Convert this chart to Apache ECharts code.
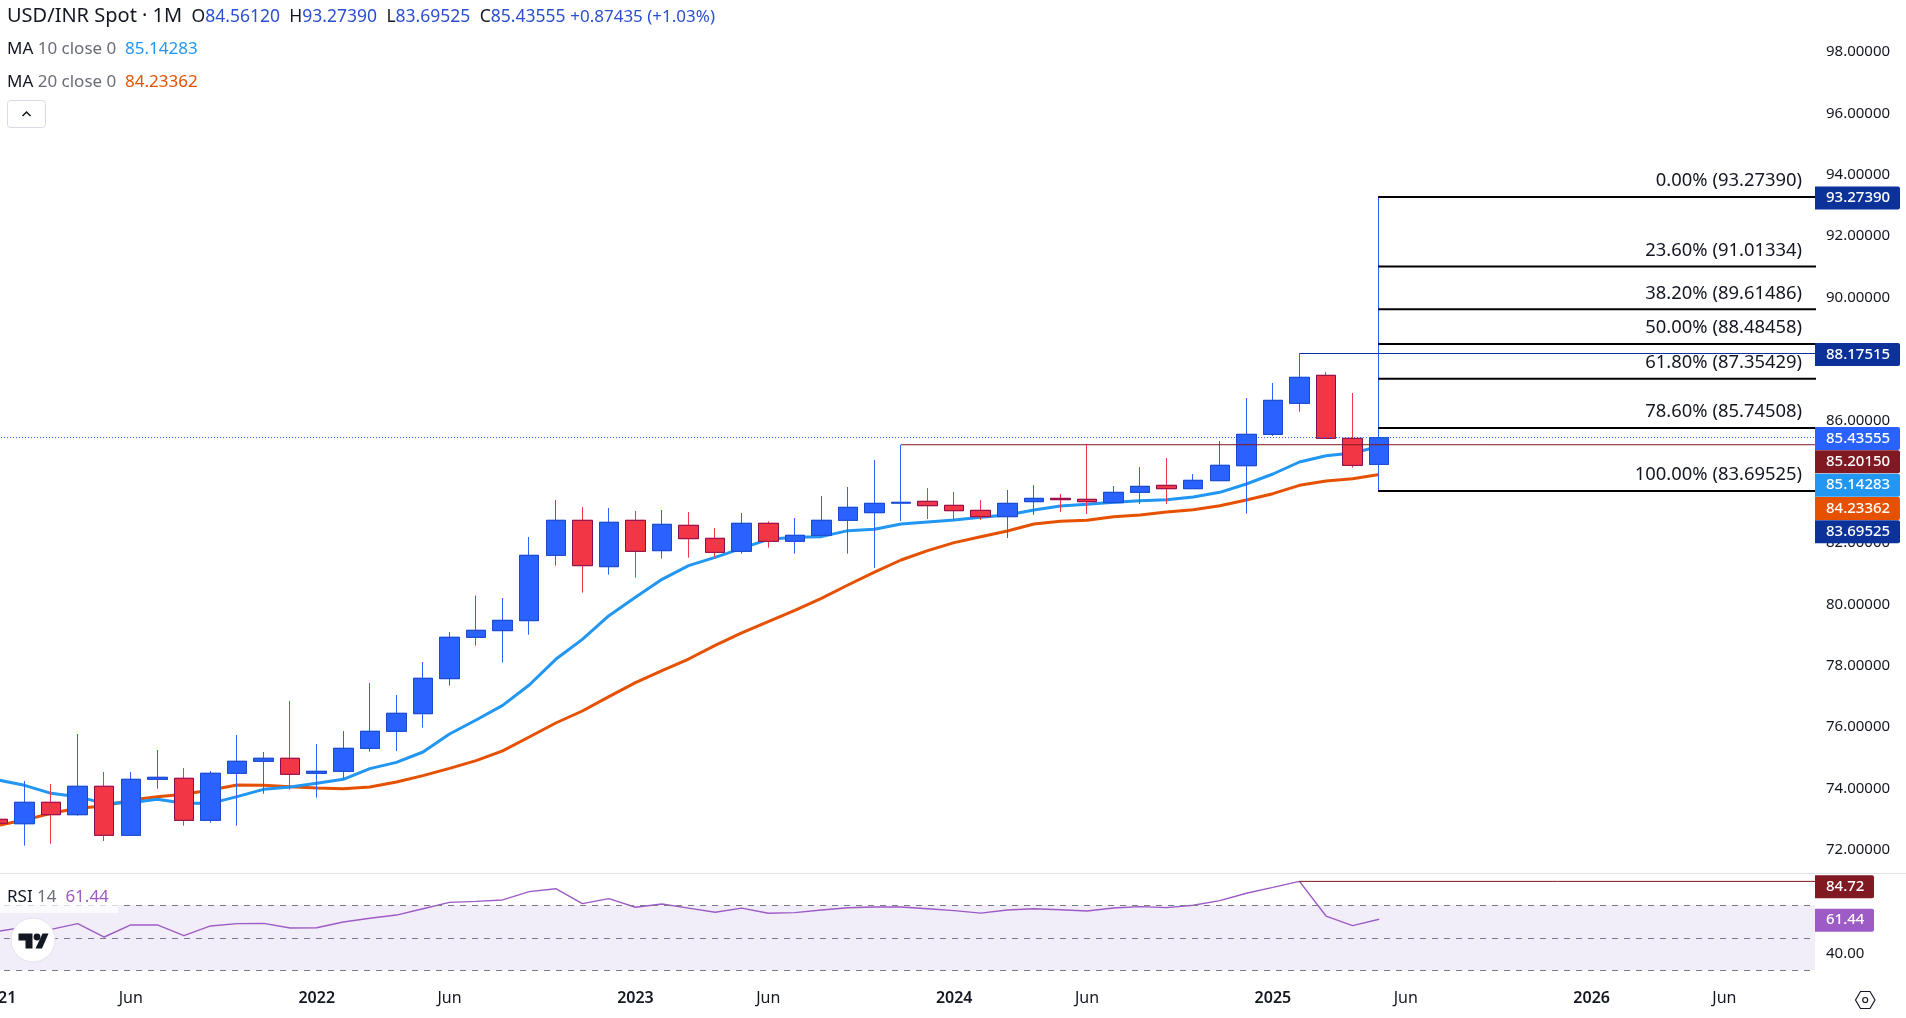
<!DOCTYPE html>
<html><head><meta charset="utf-8">
<style>html,body{margin:0;padding:0;background:#fff}#c{width:1906px;height:1018px}</style>
<script src="https://cdn.jsdelivr.net/npm/echarts@6/dist/echarts.min.js"></script>
</head><body><div id="c"></div>
<script>
const opens=[72.997,72.853,73.551,73.147,74.072,72.476,74.30,74.333,72.964,74.496,
74.887,74.985,74.496,74.561,75.31,75.864,76.439,77.58,78.927,79.144,
79.47,81.598,82.739,81.229,82.739,81.75,82.576,82.152,81.729,82.641,
82.055,82.25,82.739,82.988,83.30,83.358,83.227,83.064,82.858,83.347,
83.455,83.423,83.314,83.651,83.879,83.77,84.031,84.519,85.54,86.551,
87.463,85.41,84.5612];
const closes=[72.867,73.551,73.147,74.072,72.476,74.30,74.365,72.964,74.496,74.887,
74.985,74.463,74.561,75.31,75.864,76.451,77.591,78.927,79.155,79.48,
81.598,82.739,81.262,82.674,81.729,82.608,82.141,81.696,82.641,82.055,
82.25,82.739,83.162,83.292,83.325,83.216,83.053,82.858,83.292,83.455,
83.412,83.347,83.651,83.846,83.77,84.042,84.531,85.54,86.648,87.398,
85.41,84.53,85.43555];
const lows=[72.867,72.137,72.202,73.114,72.29,72.476,73.994,72.788,72.886,72.788,
73.831,73.962,73.701,74.31,75.20,75.222,75.983,77.352,78.655,78.101,
79.013,81.262,80.382,80.968,80.871,81.49,81.522,81.533,81.653,81.848,
81.653,82.207,81.653,81.185,82.717,82.782,82.749,82.749,82.163,82.912,
83.01,82.945,83.314,83.271,83.271,83.77,84.031,82.955,85.486,86.279,
85.41,84.454,83.69525];
const highs=[72.997,74.245,74.147,75.776,74.538,74.538,75.255,74.668,74.571,75.744,
75.19,76.852,75.45,75.874,77.438,77.047,78.123,79.1,80.286,80.208,
82.196,83.401,83.173,83.141,83.043,83.075,83.01,82.489,82.978,82.706,
82.815,83.532,83.825,84.704,85.2015,83.792,83.662,83.401,83.727,83.89,
83.596,85.2015,83.857,84.476,84.769,84.248,85.323,86.724,87.213,88.17515,
87.571,86.887,93.2739];
const ma10=[74.278,74.104,73.843,73.735,73.517,73.539,73.648,73.517,73.517,73.735,
73.973,74.049,74.169,74.299,74.647,74.853,75.19,75.777,76.233,76.711,
77.373,78.21,78.861,79.632,80.23,80.816,81.262,81.533,81.826,82.12,
82.185,82.207,82.402,82.446,82.619,82.684,82.749,82.836,82.912,83.075,
83.205,83.26,83.325,83.379,83.412,83.499,83.651,83.922,84.248,84.639,
84.845,84.932,85.14283];
const ma20=[72.80,72.974,73.191,73.354,73.43,73.626,73.735,73.811,73.952,74.115,
74.104,74.06,74.017,73.995,74.049,74.212,74.419,74.658,74.908,75.228,
75.679,76.135,76.526,76.993,77.449,77.84,78.22,78.666,79.068,79.437,
79.806,80.197,80.632,81.05,81.446,81.75,82.011,82.206,82.391,82.619,
82.706,82.738,82.858,82.912,83.01,83.086,83.216,83.401,83.607,83.879,
84.02,84.096,84.23362];
const rsi=[54,56.6,55.2,58.7,50.5,57.9,57.9,51.3,57.3,58.7,
58.9,56.0,56.2,59.7,62.0,64.0,67.9,71.8,72.4,73.3,
78.4,80.2,71.0,74.1,68.8,70.8,68.3,65.7,68.3,65.1,
65.5,67.1,68.5,69,69,67.9,66.7,65.2,67.1,67.9,
67.3,66.5,68.3,69.2,68.6,70,72.9,77.4,81.0,84.72,
63.4,57.5,61.44];
const fibRatios=['0.00%','23.60%','38.20%','50.00%','61.80%','78.60%','100.00%'];
const fibPrices=[93.27390,91.01334,89.61486,88.48458,87.35429,85.74508,83.69525];
const priceTicks=[72,74,76,78,80,82,84,86,88,90,92,94,96,98];
const rsiTicks=[40];
const rsiBands=[70,50,30];
const xTickIndex=[0,5,12,17,24,29,36,41,48,53,60,65];
const xTickNames=['2021','Jun','2022','Jun','2023','Jun','2024','Jun','2025','Jun','2026','Jun'];
const lastPrice=85.43555, resistance=85.20150, swingHigh=88.17515, rsiHigh=84.72, rsiLast=61.44;
const resistanceStart=34, swingStart=49, rsiHighStart=49, fibStart=52;
const priceTags=[[93.27390,'#0c3299'],[88.17515,'#0c3299'],[85.43555,'#2962ff'],[85.20150,'#801922'],[85.14283,'#2196f3'],[84.23362,'#e65100'],[83.69525,'#0c3299']];
const rsiTags=[[84.72,'#801922'],[61.44,'#9d5bc5']];

const FONT='"Noto Sans", sans-serif';
const DARK='#131722', GREY='#6a6d78', BLUE='#2a4fd0', PURPLE='#9d5bc5';
const xMin=-0.678, xMax=68.41;
const candle=(i)=>[i,opens[i],closes[i],lows[i],highs[i]];
const idx=opens.map((_,i)=>i);
const pts=(a)=>a.map((v,i)=>[i,v]);
const hline=(x0,v)=>[[x0,v],[xMax,v]];

function tagItem(params,api,tags,top){
  const i=api.value(2);
  const ys=tags.map(t=>api.coord([xMax,t[0]])[1]+1);
  let prev=top-23.3;
  for(let k=0;k<ys.length;k++){ if(ys[k]<prev+23.3) ys[k]=prev+23.3; prev=ys[k]; }
  const cs=params.coordSys, x=cs.x+cs.width, w=tags===rsiTags?59:85;
  return {type:'group',children:[
    {type:'rect',shape:{x:x,y:ys[i]-11.5,width:w,height:23,r:[0,2,2,0]},style:{fill:tags[i][1]}},
    {type:'text',style:{x:x+11,y:ys[i],text:tags===rsiTags?tags[i][0].toFixed(2):tags[i][0].toFixed(5),fill:'#fff',font:'500 15px '+FONT,verticalAlign:'middle',align:'left'}}
  ]};
}
const lineBase={type:'line',symbol:'none',showSymbol:false,silent:true,animation:false};
const chart=echarts.init(document.getElementById('c'),null,{renderer:'canvas'});
chart.setOption({
  animation:false,backgroundColor:'#fff',
  grid:[{left:-20,top:0,width:1835,height:873,outerBoundsMode:'none'},{left:-20,top:874,width:1835,height:111,outerBoundsMode:'none'}],
  xAxis:[
    {type:'value',gridIndex:0,min:xMin,max:xMax,axisLine:{show:false},axisTick:{show:false},axisLabel:{show:false},splitLine:{show:false}},
    {type:'value',gridIndex:1,min:xMin,max:xMax,axisLine:{show:false},axisTick:{show:false},splitLine:{show:false},
     axisLabel:{show:true,customValues:xTickIndex,margin:5,fontFamily:FONT,fontSize:16,hideOverlap:false,showMinLabel:true,showMaxLabel:true,
       formatter:(v)=>{const n=xTickNames[xTickIndex.indexOf(v)];return /\d/.test(n)?'{b|'+n+'}':'{r|'+n+'}';},
       rich:{b:{fontFamily:FONT,fontSize:16,fontWeight:600,color:DARK},r:{fontFamily:FONT,fontSize:16,color:DARK}}}}
  ],
  yAxis:[
    {type:'value',gridIndex:0,position:'right',min:99.693-873/30.69,max:99.693,axisLine:{show:false},axisTick:{show:false},splitLine:{show:false},
     axisLabel:{customValues:priceTicks,margin:11,align:'left',fontFamily:FONT,fontSize:15,color:DARK,formatter:(v)=>v.toFixed(5)}},
    {type:'value',gridIndex:1,position:'right',min:20.97,max:89.26,axisLine:{show:false},axisTick:{show:false},splitLine:{show:false},
     axisLabel:{customValues:rsiTicks,margin:11,align:'left',fontFamily:FONT,fontSize:15,color:DARK,formatter:(v)=>v.toFixed(2)}}
  ],
  series:[
    Object.assign({},lineBase,{name:'MA 20',data:pts(ma20),z:2,lineStyle:{color:'#e65100',width:3}}),
    Object.assign({},lineBase,{name:'MA 10',data:pts(ma10),z:2,lineStyle:{color:'#2196f3',width:3}}),
    {type:'candlestick',name:'USD/INR wicks',z:3,silent:true,barWidth:20,encode:{x:0,y:[1,2,3,4]},data:idx.map(candle),
     itemStyle:{color:'#2962ff',color0:'#f23645',borderColor:'#2962ff',borderColor0:'#f23645',borderWidth:1},
     markLine:{silent:true,symbol:'none',animation:false,label:{show:false},lineStyle:{color:'#2962ff',type:[1,2],width:1},data:[{yAxis:lastPrice}]}},
    {type:'candlestick',name:'USD/INR bodies',z:3,silent:true,barWidth:20,encode:{x:0,y:[1,2,3,4]},
     data:idx.map(i=>[i,opens[i],closes[i],Math.min(opens[i],closes[i]),Math.max(opens[i],closes[i])]),
     itemStyle:{color:'#2962ff',color0:'#f23645',borderColor:'#1c4ac9',borderColor0:'#880e4f',borderWidth:1}},
    Object.assign({},lineBase,{name:'Resistance',data:hline(resistanceStart,resistance),z:4,lineStyle:{color:'#801922',width:1}}),
    Object.assign({},lineBase,{name:'Swing high',data:hline(swingStart,swingHigh),z:4,lineStyle:{color:'#0c3299',width:1.2}}),
    ...fibPrices.map((p,k)=>Object.assign({},lineBase,{name:'Fib '+fibRatios[k],data:hline(fibStart,p),z:4,lineStyle:{color:'#000',width:2,cap:'square'}})),
    {type:'custom',name:'Fib labels',z:5,silent:true,clip:false,data:fibPrices.map((p,k)=>[xMax,p,k]),encode:{x:0,y:1},
     renderItem:(params,api)=>{const c=api.coord([api.value(0),api.value(1)]),k=api.value(2);
       return {type:'text',style:{x:c[0]-13,y:c[1]-16,text:fibRatios[k]+' ('+fibPrices[k].toFixed(5)+')',fill:DARK,font:'18.4px '+FONT,align:'right',verticalAlign:'middle'}};}},
    {type:'custom',name:'Price tags',z:6,silent:true,clip:false,data:priceTags.map((t,k)=>[xMax,t[0],k]),encode:{x:0,y:1},
     renderItem:(params,api)=>tagItem(params,api,priceTags,0)},
    Object.assign({},lineBase,{name:'RSI',xAxisIndex:1,yAxisIndex:1,data:pts(rsi),z:4,lineStyle:{color:PURPLE,width:1.4},
      markArea:{silent:true,animation:false,itemStyle:{color:'rgba(126,87,194,0.1)'},data:[[{yAxis:rsiBands[0]},{yAxis:rsiBands[2]}]]},
      markLine:{silent:true,symbol:'none',animation:false,label:{show:false},lineStyle:{color:'#787b86',type:[6,6],width:1},data:rsiBands.map(v=>({yAxis:v}))}}),
    Object.assign({},lineBase,{name:'RSI high',xAxisIndex:1,yAxisIndex:1,data:hline(rsiHighStart,rsiHigh),z:4,lineStyle:{color:'#801922',width:1}}),
    {type:'custom',name:'RSI tags',xAxisIndex:1,yAxisIndex:1,z:6,silent:true,clip:false,data:rsiTags.map((t,k)=>[xMax,t[0],k]),encode:{x:0,y:1},
     renderItem:(params,api)=>tagItem(params,api,rsiTags,886.7)}
  ],
  graphic:{elements:[
    {type:'rect',silent:true,z:10,shape:{x:0,y:873,width:1906,height:1},style:{fill:'#e0e3eb'}},
    {type:'rect',silent:true,z:11,shape:{x:0,y:905,width:118,height:8},style:{fill:'rgba(255,255,255,0.7)'}},
    {type:'text',silent:true,z:12,x:7,y:16.7,style:{font:'18px '+FONT,fill:DARK,verticalAlign:'middle',
      text:'{t|USD/INR Spot · 1M}  {k|O}{v|84.56120}  {k|H}{v|93.27390}  {k|L}{v|83.69525}  {k|C}{v|85.43555} {w|+0.87435 (+1.03%)}',
      rich:{t:{fontFamily:FONT,fontSize:20,fill:DARK},k:{fontFamily:FONT,fontSize:17.5,fill:DARK},v:{fontFamily:FONT,fontSize:17.5,fill:BLUE},w:{fontFamily:FONT,fontSize:17,fill:BLUE}}}},
    {type:'text',silent:true,z:12,x:7,y:49,style:{font:'17px '+FONT,fill:DARK,verticalAlign:'middle',
      text:'{k|MA} {g|10 close 0}  {v|85.14283}',rich:{k:{fontFamily:FONT,fontSize:17,fill:DARK},g:{fontFamily:FONT,fontSize:17,fill:GREY},v:{fontFamily:FONT,fontSize:17,fill:'#2196f3'}}}},
    {type:'text',silent:true,z:12,x:7,y:82,style:{font:'17px '+FONT,fill:DARK,verticalAlign:'middle',
      text:'{k|MA} {g|20 close 0}  {v|84.23362}',rich:{k:{fontFamily:FONT,fontSize:17,fill:DARK},g:{fontFamily:FONT,fontSize:17,fill:GREY},v:{fontFamily:FONT,fontSize:17,fill:'#e65100'}}}},
    {type:'rect',silent:true,z:12,shape:{x:7.5,y:100.5,width:38,height:27,r:3},style:{fill:'#fff',stroke:'#d8dbe4',lineWidth:1}},
    {type:'polyline',silent:true,z:13,shape:{points:[[22.5,116],[26.5,112],[30.5,116]]},style:{stroke:DARK,lineWidth:1.5,fill:null}},
    {type:'text',silent:true,z:12,x:7,y:897,style:{font:'17px '+FONT,fill:DARK,verticalAlign:'middle',
      text:'{k|RSI} {g|14}  {v|61.44}',rich:{k:{fontFamily:FONT,fontSize:17,fill:DARK},g:{fontFamily:FONT,fontSize:17,fill:GREY},v:{fontFamily:FONT,fontSize:17,fill:PURPLE}}}},
    {type:'circle',silent:true,z:12,shape:{cx:33,cy:940,r:22},style:{fill:'#fff',stroke:'#e0e3eb',lineWidth:1}},
    {type:'polygon',silent:true,z:13,shape:{points:[[18.5,933.5],[32.5,933.5],[32.5,948.5],[25.5,948.5],[25.5,940.5],[18.5,940.5]]},style:{fill:DARK}},
    {type:'circle',silent:true,z:13,shape:{cx:37,cy:937,r:3.4},style:{fill:DARK}},
    {type:'polygon',silent:true,z:13,shape:{points:[[42.5,933.5],[48.5,933.5],[42,948.5],[35.5,948.5]]},style:{fill:DARK}},
    {type:'polygon',silent:true,z:12,shape:{points:[[1855.5,1000],[1860.5,991.5],[1870,991.5],[1875,1000],[1870,1008.5],[1860.5,1008.5]]},style:{fill:'none',stroke:DARK,lineWidth:1.2}},
    {type:'circle',silent:true,z:12,shape:{cx:1865.2,cy:1000,r:2.5},style:{fill:'none',stroke:DARK,lineWidth:1.2}}
  ]}
});
</script></body></html>
